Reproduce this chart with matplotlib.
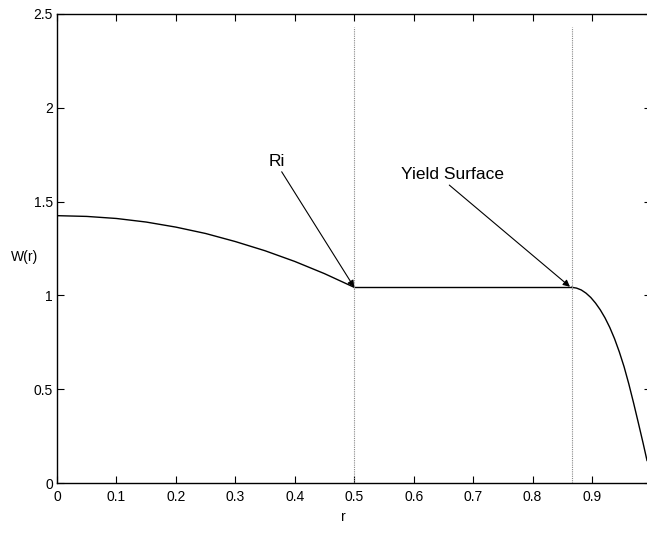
import matplotlib
matplotlib.use("Agg")
import matplotlib.pyplot as plt

plt.rcParams['font.family'] = ['Liberation Sans', 'DejaVu Sans']

# velocity profile
r_core = [0.0, 0.05, 0.1, 0.15, 0.2, 0.25, 0.3, 0.35, 0.4, 0.45, 0.5]
w_core = [1.425, 1.421, 1.410, 1.391, 1.364, 1.330, 1.287, 1.238, 1.181, 1.116, 1.043]

r_plug = [0.5, 0.866]
w_plug = [1.043, 1.043]

r_outer = [0.866, 0.874, 0.882, 0.890, 0.898, 0.906, 0.914, 0.922, 0.930,
           0.938, 0.946, 0.954, 0.962, 0.970, 0.978, 0.986, 0.9926]
w_outer = [1.043, 1.039, 1.029, 1.012, 0.989, 0.959, 0.923, 0.880, 0.829,
           0.769, 0.699, 0.620, 0.528, 0.427, 0.321, 0.213, 0.120]

ri = 0.5
yield_r = 0.866

xticks = [0, 0.1, 0.2, 0.3, 0.4, 0.5, 0.6, 0.7, 0.8, 0.9]
xlabels = ['0', '0.1', '0.2', '0.3', '0.4', '0.5', '0.6', '0.7', '0.8', '0.9']
yticks = [0, 0.5, 1, 1.5, 2, 2.5]
ylabels = ['0', '0.5', '1', '1.5', '2', '2.5']

fig = plt.figure(figsize=(6.47, 5.34), dpi=100)
ax = fig.add_axes([0.0881, 0.0955, 0.9187, 0.8783])

ax.plot(r_core, w_core, color='black', lw=1)
ax.plot(r_plug, w_plug, color='black', lw=1)
ax.plot(r_outer, w_outer, color='black', lw=1)

# dotted markers at Ri and the yield surface
ax.plot([ri, ri], [0, 2.43], color='#888888', lw=0.8, linestyle=(0, (1, 1)))
ax.plot([yield_r, yield_r], [0, 2.43], color='#888888', lw=0.8, linestyle=(0, (1, 1)))

arrow = dict(arrowstyle='-|>', color='black', lw=0.8,
             mutation_scale=10, shrinkA=0, shrinkB=0)
ax.annotate('', xy=(ri, 1.043), xytext=(0.378, 1.659), arrowprops=arrow)
ax.text(0.3696, 1.713, 'Ri', fontsize=12.5, ha='center', va='center')
ax.annotate('', xy=(0.863, 1.046), xytext=(0.660, 1.588), arrowprops=arrow)
ax.text(0.6654, 1.642, 'Yield Surface', fontsize=12.5, ha='center', va='center')

ax.set_xlim(0, 1)
ax.set_ylim(0, 2.5)
ax.set_xticks(xticks)
ax.set_xticklabels(xlabels)
ax.set_yticks(yticks)
ax.set_yticklabels(ylabels)
ax.tick_params(direction='in', length=5, width=0.8, labelsize=10,
               top=True, right=True, pad=3)
ax.tick_params(axis='x', pad=5)
for s in ax.spines.values():
    s.set_linewidth(1)

ax.set_xlabel('r', fontsize=10)
ax.xaxis.set_label_coords(0.481, -0.058)
ax.set_ylabel('W(r)', fontsize=10, rotation=0, labelpad=12)
ax.yaxis.set_label_coords(-0.055, 0.467)

fig.savefig('out.png', dpi=100)
